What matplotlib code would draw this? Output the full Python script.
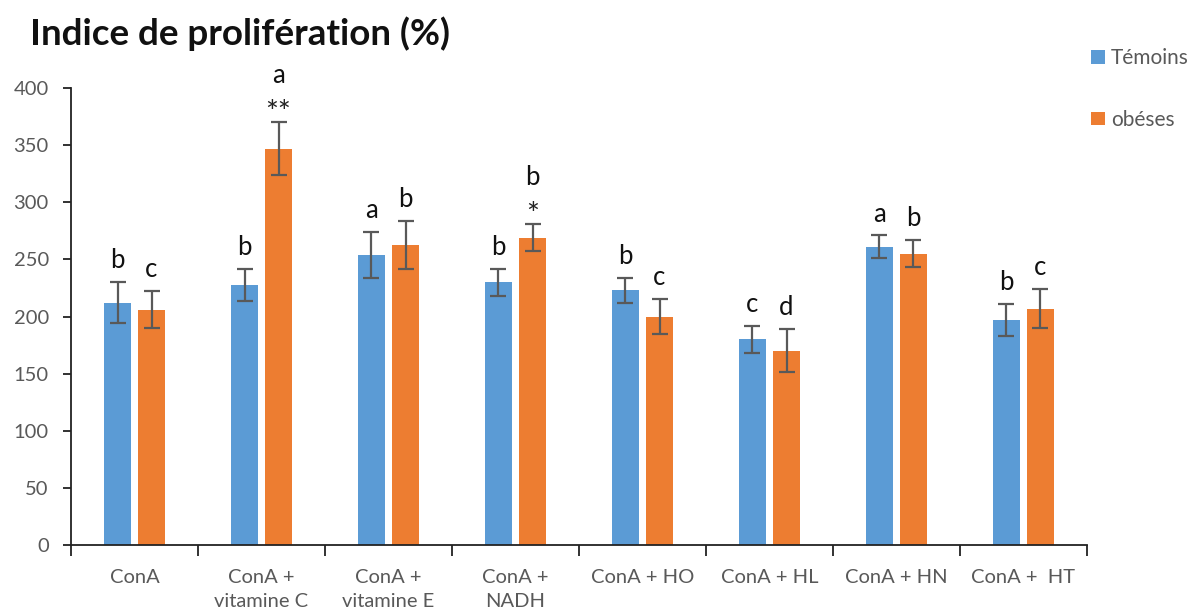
import matplotlib
matplotlib.use('Agg')
import matplotlib.pyplot as plt
import numpy as np

plt.rcParams['font.family'] = ['Lato', 'DejaVu Sans']

categories = ['ConA', 'ConA +\nvitamine C', 'ConA +\nvitamine E', 'ConA +\nNADH',
              'ConA + HO', 'ConA + HL', 'ConA + HN', 'ConA +  HT']
temoins = [212, 228, 254, 230, 223, 180, 261, 197]
temoins_err = [18, 14, 20, 12, 11, 12, 10, 14]
obeses = [206, 347, 263, 269, 200, 170, 255, 207]
obeses_err = [16, 23, 21, 12, 15, 19, 12, 17]
temoins_letters = ['b', 'b', 'a', 'b', 'b', 'c', 'a', 'b']
obeses_letters = ['c', 'a', 'b', 'b', 'c', 'd', 'b', 'c']
obeses_stars = ['', '**', '', '*', '', '', '', '']

blue = '#5B9BD5'
orange = '#ED7D31'
grey = '#595959'

fig = plt.figure(figsize=(12.02, 6.16), dpi=100)
ax = fig.add_axes([0.0591, 0.1153, 0.9043 - 0.0591, 0.8571 - 0.1153])

x = np.arange(1, len(categories) + 1)
w = 0.21
off = 0.134
ax.bar(x - off, temoins, w, color=blue, label='Témoins', zorder=2)
ax.bar(x + off, obeses, w, color=orange, label='obéses', zorder=2)
ax.errorbar(x - off, temoins, yerr=temoins_err, fmt='none', ecolor=grey,
            elinewidth=1.6, capsize=6, capthick=1.6, zorder=3)
ax.errorbar(x + off, obeses, yerr=obeses_err, fmt='none', ecolor=grey,
            elinewidth=1.6, capsize=6, capthick=1.6, zorder=3)

# significance letters (and stars) above the error bars
for i in range(len(categories)):
    ax.annotate(temoins_letters[i], (x[i] - off, temoins[i] + temoins_err[i]),
                xytext=(0, 10), textcoords='offset points', ha='center', va='baseline',
                fontsize=18.5, color='#111111')
    top = obeses[i] + obeses_err[i]
    if obeses_stars[i]:
        ax.annotate(obeses_stars[i], (x[i] + off, top), xytext=(0, 0),
                    textcoords='offset points', ha='center', va='baseline',
                    fontsize=22, color='#222222')
        ax.annotate(obeses_letters[i], (x[i] + off, top), xytext=(0, 28),
                    textcoords='offset points', ha='center', va='baseline',
                    fontsize=18.5, color='#111111')
    else:
        ax.annotate(obeses_letters[i], (x[i] + off, top), xytext=(0, 10),
                    textcoords='offset points', ha='center', va='baseline',
                    fontsize=18.5, color='#111111')

ax.set_xlim(0.5, len(categories) + 0.5)
ax.set_ylim(0, 400)
ax.set_yticks(np.arange(0, 401, 50))
ax.set_xticks(np.arange(0.5, len(categories) + 1, 1))
ax.set_xticklabels([])
ax.set_xticks(x, minor=True)
ax.set_xticklabels(categories, minor=True, fontsize=14.5, color=grey, linespacing=1.5)
ax.tick_params(axis='x', which='major', direction='out', length=8, width=1.3, color='#222222')
ax.tick_params(axis='x', which='minor', length=0, pad=17)
ax.tick_params(axis='y', direction='out', length=6, width=1.3, color='#222222',
               labelsize=14.5, labelcolor=grey, pad=10)
for s in ['top', 'right']:
    ax.spines[s].set_visible(False)
for s in ['left', 'bottom']:
    ax.spines[s].set_linewidth(1.3)
    ax.spines[s].set_color('#222222')

fig.text(0.025, 0.927, 'Indice de prolifération (%)', fontsize=26.5, fontweight='bold',
         ha='left', va='baseline', color='#111111')

ax.legend(loc='upper left', bbox_to_anchor=(0.994, 1.11), frameon=False, fontsize=15,
          borderpad=0, handlelength=0.65, handleheight=0.65, handletextpad=0.3,
          labelspacing=2.0, labelcolor=grey)

fig.savefig('out.png', dpi=100)
